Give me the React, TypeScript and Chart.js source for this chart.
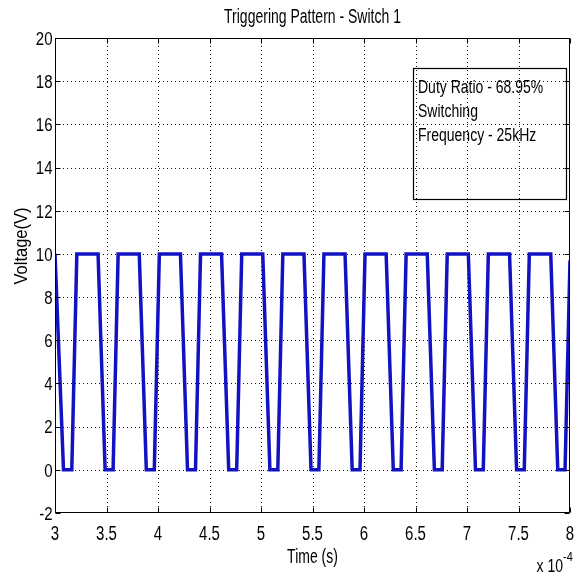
import React, { useEffect, useRef } from "react";
import { Chart, registerables } from "chart.js";

Chart.register(...registerables);

const TITLE = "Triggering Pattern - Switch 1";
const X_LABEL = "Time (s)";
const Y_LABEL = "Voltage(V)";
const X_EXPONENT = "-4";
const X_TICKS = [3, 3.5, 4, 4.5, 5, 5.5, 6, 6.5, 7, 7.5, 8];
const X_TICK_LABELS = ["3", "3.5", "4", "4.5", "5", "5.5", "6", "6.5", "7", "7.5", "8"];
const Y_TICKS = [-2, 0, 2, 4, 6, 8, 10, 12, 14, 16, 18, 20];
const Y_TICK_LABELS = ["-2", "0", "2", "4", "6", "8", "10", "12", "14", "16", "18", "20"];
const ANNOTATION = ["Duty Ratio - 68.95%", "Switching", "Frequency - 25kHz"];

// time in units of 1e-4 s
const timeE4 = [
  3.0, 3.0825, 3.163, 3.212, 3.418,
  3.4865, 3.564, 3.613, 3.818,
  3.8865, 3.964, 4.013, 4.218,
  4.2865, 4.364, 4.413, 4.617,
  4.6865, 4.764, 4.813, 5.017,
  5.0865, 5.163, 5.212, 5.417,
  5.4855, 5.562, 5.611, 5.816,
  5.8855, 5.961, 6.01, 6.215,
  6.2845, 6.36, 6.409, 6.614,
  6.6835, 6.759, 6.808, 7.013,
  7.0825, 7.158, 7.207, 7.413,
  7.4815, 7.556, 7.605, 7.813,
  7.881, 7.952, 8.0,
];
const voltage = [
  10, 0, 0, 10, 10,
  0, 0, 10, 10,
  0, 0, 10, 10,
  0, 0, 10, 10,
  0, 0, 10, 10,
  0, 0, 10, 10,
  0, 0, 10, 10,
  0, 0, 10, 10,
  0, 0, 10, 10,
  0, 0, 10, 10,
  0, 0, 10, 10,
  0, 0, 10, 10,
  0, 0, 9.7,
];

const FONT = "'Liberation Sans', Arial, Helvetica, sans-serif";

function drawText(
  ctx: CanvasRenderingContext2D,
  s: string,
  x: number,
  y: number,
  size: number,
  align: CanvasTextAlign,
  sx: number,
  sy: number,
  rot = 0
) {
  ctx.save();
  ctx.translate(x, y);
  if (rot) ctx.rotate(rot);
  ctx.scale(sx, sy);
  ctx.font = `${size}px ${FONT}`;
  ctx.textAlign = align;
  ctx.textBaseline = "alphabetic";
  ctx.fillStyle = "#000";
  ctx.fillText(s, 0, 0);
  ctx.restore();
}

const gridPlugin = {
  id: "matlabGrid",
  beforeDatasetsDraw(chart: any) {
    const { ctx, chartArea: a, scales } = chart;
    const xs = scales.x;
    const ys = scales.y;
    ctx.save();
    ctx.strokeStyle = "#111";
    ctx.lineWidth = 1;
    ctx.setLineDash([1, 3]);
    X_TICKS.forEach((v) => {
      const px = Math.round(xs.getPixelForValue(v)) + 0.5;
      if (px <= a.left + 1 || px >= a.right - 1) return;
      ctx.beginPath();
      ctx.moveTo(px, a.top);
      ctx.lineTo(px, a.bottom);
      ctx.stroke();
    });
    Y_TICKS.forEach((v) => {
      const py = Math.round(ys.getPixelForValue(v)) + 0.5;
      if (py <= a.top + 1 || py >= a.bottom - 1) return;
      ctx.beginPath();
      ctx.moveTo(a.left, py);
      ctx.lineTo(a.right, py);
      ctx.stroke();
    });
    ctx.restore();
  },
  afterDraw(chart: any) {
    const { ctx, chartArea: a, scales } = chart;
    const xs = scales.x;
    const ys = scales.y;
    ctx.save();
    ctx.setLineDash([]);
    ctx.strokeStyle = "#000";
    ctx.lineWidth = 1;
    const L = Math.round(a.left) + 0.5;
    const R = Math.round(a.right) - 0.5;
    const T = Math.round(a.top) + 0.5;
    const B = Math.round(a.bottom) - 0.5;
    ctx.strokeRect(L, T, R - L, B - T);
    const tl = 5;
    X_TICKS.forEach((v) => {
      const px = Math.round(xs.getPixelForValue(v)) + 0.5;
      ctx.beginPath();
      ctx.moveTo(px, B);
      ctx.lineTo(px, B - tl);
      ctx.moveTo(px, T);
      ctx.lineTo(px, T + tl);
      ctx.stroke();
    });
    Y_TICKS.forEach((v) => {
      const py = Math.round(ys.getPixelForValue(v)) + 0.5;
      ctx.beginPath();
      ctx.moveTo(L, py);
      ctx.lineTo(L + tl, py);
      ctx.moveTo(R, py);
      ctx.lineTo(R - tl, py);
      ctx.stroke();
    });
    ctx.restore();

    // tick labels
    X_TICKS.forEach((v, i) => {
      const px = xs.getPixelForValue(v);
      drawText(ctx, X_TICK_LABELS[i], px, 539.5, 15, "center", 1, 1.3);
    });
    Y_TICKS.forEach((v, i) => {
      const py = ys.getPixelForValue(v);
      drawText(ctx, Y_TICK_LABELS[i], 52.5, py + 6.8, 15, "right", 1, 1.25);
    });

    // title
    drawText(ctx, TITLE, (a.left + a.right) / 2, 23, 14, "center", 1, 1.45);
    // x label
    drawText(ctx, X_LABEL, (a.left + a.right) / 2, 563, 14, "center", 1, 1.5);
    // y label
    drawText(ctx, Y_LABEL, 27, 246, 14, "center", 1.18, 1.3, -Math.PI / 2);
    // exponent
    drawText(ctx, "x 10", 563, 572, 14, "right", 1, 1.3);
    drawText(ctx, X_EXPONENT, 563, 561, 11, "left", 1, 1.2);

    // annotation box
    ctx.save();
    ctx.strokeStyle = "#000";
    ctx.lineWidth = 1.2;
    ctx.strokeRect(413.5, 68.5, 153, 131);
    ctx.restore();
    const baselines = [93, 117, 141];
    ANNOTATION.forEach((s, i) => {
      drawText(ctx, s, 418, baselines[i], 14, "left", 1, 1.27);
    });
  },
};

export default function App() {
  const canvasRef = useRef<HTMLCanvasElement | null>(null);

  useEffect(() => {
    const canvas = canvasRef.current;
    if (!canvas) return;
    const points = timeE4.map((t, i) => ({ x: t, y: voltage[i] }));
    const chart = new Chart(canvas, {
      type: "line",
      data: {
        datasets: [
          {
            label: "Switch 1",
            data: points,
            borderColor: "rgb(18,18,195)",
            borderWidth: 3.5,
            pointRadius: 0,
            tension: 0,
            fill: false,
            borderJoinStyle: "miter",
          },
        ],
      },
      options: {
        responsive: false,
        animation: false,
        layout: { padding: { top: 38, right: 6, left: 0, bottom: 0 } },
        plugins: {
          legend: { display: false },
          tooltip: { enabled: false },
          title: { display: false },
        },
        scales: {
          x: {
            type: "linear",
            min: 3,
            max: 8,
            grid: { display: false },
            border: { display: false },
            ticks: { display: false, stepSize: 0.5 },
            afterFit: (s: any) => {
              s.height = 64;
            },
          },
          y: {
            type: "linear",
            min: -2,
            max: 20,
            grid: { display: false },
            border: { display: false },
            ticks: { display: false, stepSize: 2 },
            afterFit: (s: any) => {
              s.width = 55;
            },
          },
        },
      } as any,
      plugins: [gridPlugin],
    });
    return () => chart.destroy();
  }, []);

  return (
    <div style={{ position: "absolute", left: 0, top: 0, width: 576, height: 577, background: "#fff" }}>
      <canvas ref={canvasRef} width={576} height={577} style={{ display: "block" }} />
    </div>
  );
}
